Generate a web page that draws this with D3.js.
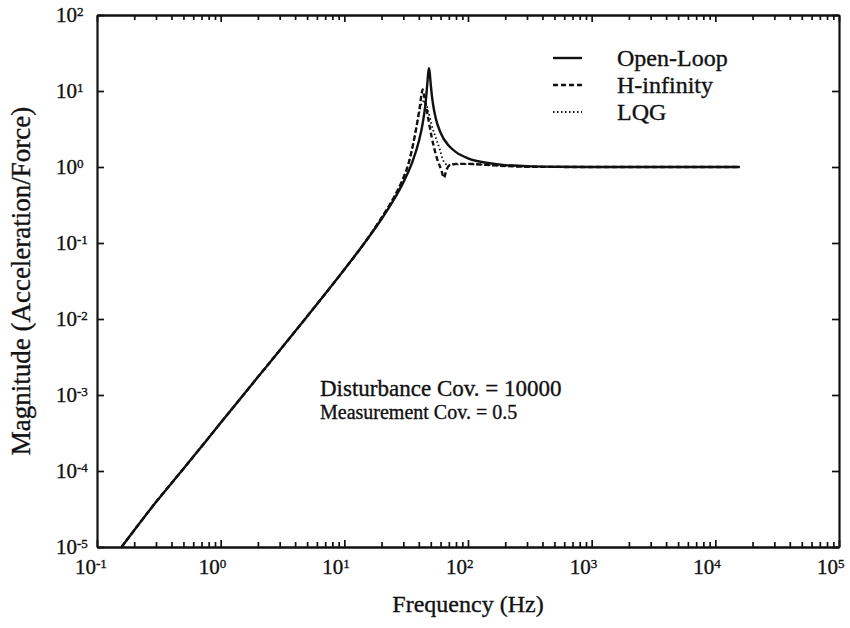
<!DOCTYPE html>
<html>
<head>
<meta charset="utf-8">
<script src="https://cdn.jsdelivr.net/npm/d3@7"></script>
<style>
  body { margin: 0; background: #fff; }
  text { font-family: "Liberation Serif", "Times New Roman", serif; fill: #111; stroke: #111; stroke-width: 0.35px; }
</style>
</head>
<body>
<svg id="chart" width="850" height="628"></svg>
<script>
// Frequency response magnitudes (acceleration / force) vs frequency in Hz
const openLoopFreq = [0.158, 0.3, 0.5, 1, 2, 5, 10, 15, 20, 25, 30, 35, 40, 43, 45, 46, 47, 47.5, 48.3, 49, 50, 51, 52, 55, 60, 70, 80, 100, 150, 200, 300, 500, 1000, 3000, 15800];
const openLoopMag  = [1.0e-5, 3.9e-5, 1.07e-4, 4.3e-4, 1.72e-3, 0.0108, 0.0448, 0.107, 0.207, 0.366, 0.628, 1.10, 2.16, 3.74, 6.2, 8.7, 13.1, 16.4, 20, 17.6, 12.1, 8.8, 6.9, 4.3, 2.82, 1.90, 1.57, 1.30, 1.12, 1.06, 1.027, 1.009, 1.002, 1.0, 1.0];

const hinfFreq = [0.158, 0.3, 0.5, 1, 2, 5, 10, 15, 20, 25, 30, 33, 36, 39, 41, 42.2, 43, 44, 45, 47.5, 50.8, 55.7, 61, 63.8, 67, 71.5, 81, 100, 125, 150, 200, 280, 500, 1000, 3000, 15800];
const hinfMag  = [1.0e-5, 3.9e-5, 1.07e-4, 4.3e-4, 1.72e-3, 0.0108, 0.0448, 0.107, 0.215, 0.39, 0.72, 1.1, 2.0, 4.0, 6.6, 9.3, 10.5, 8.9, 7.4, 4.5, 2.5, 1.35, 0.9, 0.72, 0.92, 1.06, 1.10, 1.10, 1.08, 1.06, 1.03, 1.01, 1.003, 1.001, 1.0, 1.0];

const lqgFreq = [0.158, 0.3, 0.5, 1, 2, 5, 10, 15, 20, 25, 30, 33, 36, 39, 41, 43, 45, 47.5, 50.8, 55.7, 59.3, 62.7, 68.8, 75, 100, 150, 200, 280, 500, 1000, 3000, 15800];
const lqgMag  = [1.0e-5, 3.9e-5, 1.07e-4, 4.3e-4, 1.72e-3, 0.0108, 0.0448, 0.107, 0.215, 0.39, 0.72, 1.1, 2.0, 3.9, 5.8, 7.3, 7.2, 5.6, 3.57, 2.26, 1.68, 1.24, 1.06, 1.08, 1.09, 1.06, 1.03, 1.01, 1.003, 1.001, 1.0, 1.0];

const seriesNames = ["Open-Loop", "H-infinity", "LQG"];
const xTickExponents = [-1, 0, 1, 2, 3, 4, 5];
const yTickExponents = [-5, -4, -3, -2, -1, 0, 1, 2];
const annotationLines = ["Disturbance Cov. = 10000", "Measurement Cov. = 0.5"];
const xTitle = "Frequency (Hz)";
const yTitle = "Magnitude (Acceleration/Force)";

const svg = d3.select("#chart");
const plot = { left: 97, right: 839, top: 15, bottom: 547 };

const x = d3.scaleLog().domain([0.1, 1e5]).range([plot.left, plot.right]);
const y = d3.scaleLog().domain([1e-5, 1e2]).range([plot.bottom, plot.top]);

const majorX = xTickExponents.map(e => Math.pow(10, e));
const majorY = yTickExponents.map(e => Math.pow(10, e));
const minorX = [];
for (let e = -1; e < 5; e++) for (let k = 2; k < 10; k++) minorX.push(k * Math.pow(10, e));

// frame with inward ticks
function drawAxis(gen, tx, ty, values, size) {
  const g = svg.append("g")
    .attr("transform", `translate(${tx},${ty})`)
    .call(gen.tickValues(values).tickSize(size).tickSizeOuter(0).tickFormat(""));
  g.select(".domain").attr("stroke", "#111").attr("stroke-width", 2.2);
  g.selectAll(".tick line").attr("stroke", "#111").attr("stroke-width", 1.7);
  return g;
}
drawAxis(d3.axisBottom(x), 0, plot.bottom, minorX, -5);
drawAxis(d3.axisBottom(x), 0, plot.bottom, majorX, -7);
drawAxis(d3.axisTop(x), 0, plot.top, minorX, -5);
drawAxis(d3.axisTop(x), 0, plot.top, majorX, -7);
drawAxis(d3.axisLeft(y), plot.left, 0, majorY, -7);
drawAxis(d3.axisRight(y), plot.right, 0, majorY, -7);

// power-of-ten tick labels
function powerLabel(sel, exp) {
  sel.append("tspan").text("10");
  sel.append("tspan").attr("dy", -6).attr("font-size", 13).text(exp < 0 ? "-" + (-exp) : String(exp));
}
xTickExponents.forEach(e => {
  const t = svg.append("text")
    .attr("x", x(Math.pow(10, e)) - 22)
    .attr("y", 574)
    .attr("font-size", 21);
  powerLabel(t, e);
});
yTickExponents.forEach(e => {
  const t = svg.append("text")
    .attr("x", 56)
    .attr("y", y(Math.pow(10, e)) + 7)
    .attr("font-size", 21);
  powerLabel(t, e);
});

// axis titles
svg.append("text")
  .attr("x", (plot.left + plot.right) / 2)
  .attr("y", 612)
  .attr("text-anchor", "middle")
  .attr("font-size", 24)
  .text(xTitle);
svg.append("text")
  .attr("transform", `translate(30,${(plot.top + plot.bottom) / 2}) rotate(-90)`)
  .attr("text-anchor", "middle")
  .attr("font-size", 27)
  .text(yTitle);

// response curves
const toPoints = (fs, ms) => fs.map((f, i) => ({ f, m: ms[i] }));
const line = d3.line()
  .x(d => x(d.f))
  .y(d => y(d.m))
  .curve(d3.curveMonotoneX);

svg.append("clipPath").attr("id", "plotClip")
  .append("rect")
  .attr("x", plot.left).attr("y", plot.top)
  .attr("width", plot.right - plot.left).attr("height", plot.bottom - plot.top);

const curves = svg.append("g").attr("clip-path", "url(#plotClip)");
const styles = [
  { dash: null, width: 2.4 },
  { dash: "5,3", width: 2.4 },
  { dash: "1.5,2.5", width: 1.8 }
];
const seriesData = [
  toPoints(openLoopFreq, openLoopMag),
  toPoints(hinfFreq, hinfMag),
  toPoints(lqgFreq, lqgMag)
];
[2, 1, 0].forEach(i => {
  curves.append("path")
    .datum(seriesData[i])
    .attr("fill", "none")
    .attr("stroke", "#111")
    .attr("stroke-width", styles[i].width)
    .attr("stroke-dasharray", styles[i].dash)
    .attr("stroke-linejoin", "round")
    .attr("d", line);
});

// legend
const legend = svg.append("g");
const legendRows = [58, 85, 112];
seriesNames.forEach((name, i) => {
  legend.append("line")
    .attr("x1", 553).attr("x2", 582)
    .attr("y1", legendRows[i]).attr("y2", legendRows[i])
    .attr("stroke", "#111")
    .attr("stroke-width", styles[i].width)
    .attr("stroke-dasharray", styles[i].dash);
  legend.append("text")
    .attr("x", 617)
    .attr("y", legendRows[i] + 8)
    .attr("font-size", 24)
    .text(name);
});

// covariance annotation
svg.append("text").attr("x", 320).attr("y", 396).attr("font-size", 23).text(annotationLines[0]);
svg.append("text").attr("x", 320).attr("y", 419).attr("font-size", 20).text(annotationLines[1]);
</script>
</body>
</html>
